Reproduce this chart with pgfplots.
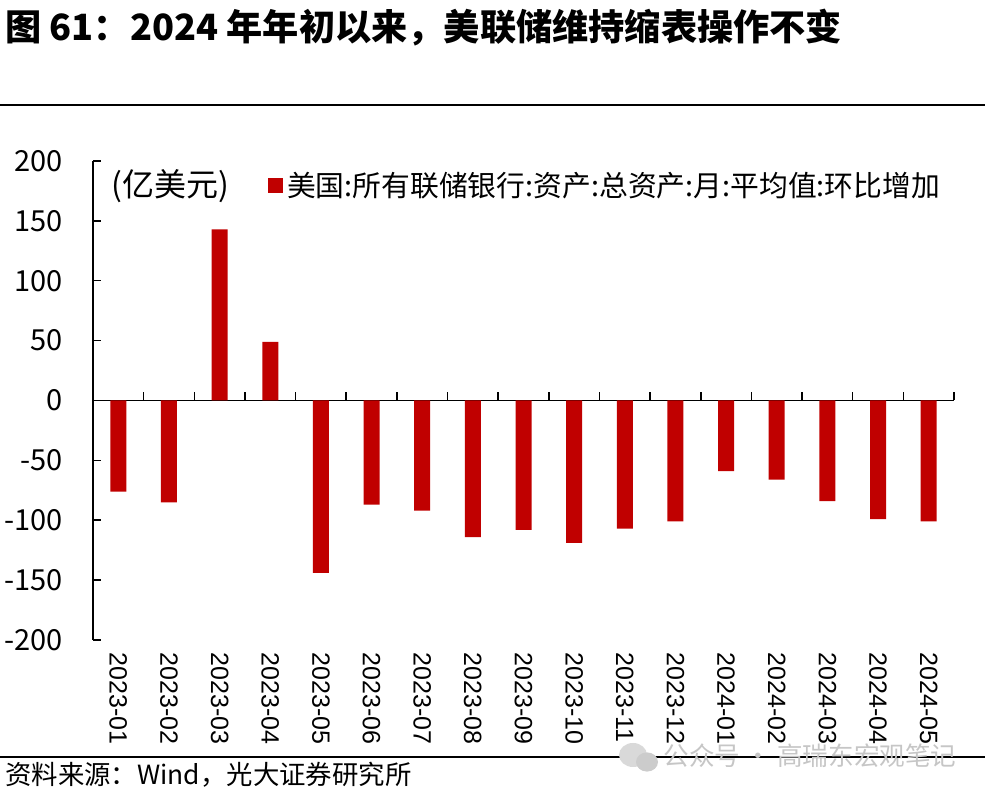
\documentclass[border=0pt]{standalone}
\usepackage{fontspec}
\usepackage{pgfplots}
\pgfplotsset{compat=1.18}
\setmainfont{Noto Sans CJK SC}
\newfontfamily\xfont{Liberation Sans}
\definecolor{barred}{HTML}{C00000}

\begin{document}
\begin{tikzpicture}
\useasboundingbox (-46.5pt,-77.5pt) rectangle (446pt,320pt);

\begin{axis}[
    at={(0,0)}, anchor=south west,
    scale only axis,
    width=430.5pt, height=239.5pt,
    xmin=-0.5, xmax=16.5,
    ymin=-200, ymax=200,
    axis y line*=left,
    axis x line*=middle,
    axis line style={line width=0.75pt, black},
    ytick={-200,-150,...,200},
    ytick align=inside,
    major tick length=4pt,
    minor tick length=4pt,
    tick style={line width=0.75pt, black},
    xtick={0,...,16},
    xticklabels={2023-01,2023-02,2023-03,2023-04,2023-05,2023-06,2023-07,2023-08,2023-09,2023-10,2023-11,2023-12,2024-01,2024-02,2024-03,2024-04,2024-05},
    minor xtick={-0.5,0.5,...,16.5},
    major x tick style={draw=none},
    /pgf/number format/assume math mode=true,
    yticklabel style={font=\fontsize{14.5}{16}\selectfont, anchor=east, inner sep=0pt, xshift=-15pt},
    xticklabel style={font=\xfont\fontsize{12.5}{14}\selectfont, yshift=-126pt, rotate=-90, anchor=west, inner sep=0pt},
    legend style={at={(0.203,0.948)}, anchor=west, draw=none, fill=none, inner sep=0pt,
        font=\fontsize{14.4}{16}\selectfont},
    legend image code/.code={\fill[barred] (0pt,-3.75pt) rectangle (7.5pt,3.75pt);},
]
\addplot[ybar, bar width=8pt, bar shift=0pt, fill=barred, draw=none]
    coordinates {(0,-76) (1,-85) (2,143) (3,49) (4,-144) (5,-87) (6,-92) (7,-114)
                 (8,-108) (9,-119) (10,-107) (11,-101) (12,-59) (13,-66) (14,-84)
                 (15,-99) (16,-101)};
\addlegendentry{美国:所有联储银行:资产:总资产:月:平均值:环比增加}
\node[anchor=west, inner sep=0pt, font=\fontsize{16}{18}\selectfont]
    at (rel axis cs:0.021,0.948) {(亿美元)};
\end{axis}

% title, rules, source line
\node[anchor=base west, inner sep=0pt, font=\fontsize{18.1}{20}\selectfont\bfseries]
    at (-44pt,299.5pt) {图 61：2024 年年初以来，美联储维持缩表操作不变};
\draw[line width=1pt] (-46.5pt,267.5pt) -- (446pt,267.5pt);
\draw[line width=1pt] (-46.5pt,-58.5pt) -- (446pt,-58.5pt);
\node[anchor=base west, inner sep=0pt, font=\fontsize{13.2}{15}\selectfont]
    at (-44pt,-72.5pt) {资料来源：Wind，光大证券研究所};

% watermark
\fill[gray!30] (270pt,-57.5pt) ellipse (7pt and 6pt);
\fill[gray!40] (277pt,-61pt) ellipse (5.5pt and 4.8pt);
\node[anchor=base west, inner sep=0pt, text=gray!45, font=\fontsize{12.8}{14}\selectfont]
    at (285pt,-63pt) {公众号 · 高瑞东宏观笔记};
\end{tikzpicture}
\end{document}
